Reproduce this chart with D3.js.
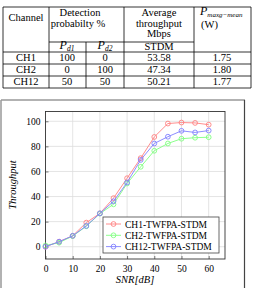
<!DOCTYPE html>
<html lang="en">
<head>
  <meta charset="UTF-8">
  <title>Throughput vs SNR</title>
  <script src="https://d3js.org/d3.v7.min.js"></script>
  <style>
    body { margin: 0; background: #fff; }
    svg, svg text { font-family: "Liberation Serif", "DejaVu Serif", serif; }
  </style>
</head>
<body>
<div id="chart"></div>
<script>
  const FONT = "'Liberation Serif', 'DejaVu Serif', serif";

  // table data
  const channels = ["CH1", "CH2", "CH12"];
  const pd1 = ["100", "0", "50"];
  const pd2 = ["0", "100", "50"];
  const stdm = ["53.58", "47.34", "50.21"];
  const pmaxg = ["1.75", "1.80", "1.77"];

  // plot data
  const snr = [0, 5, 10, 15, 20, 25, 30, 35, 40, 45, 50, 55, 60];
  const ch1 = [0, 4, 8.7, 19.2, 26.6, 38.7, 54.6, 70.6, 87.5, 98.2, 99.0, 98.7, 97.3];
  const ch2 = [1, 3.2, 8.5, 16.3, 26.4, 33.8, 50.4, 63.7, 76.5, 82.3, 86.1, 86.9, 87.3];
  const ch12 = [0, 4, 8.7, 16.6, 26.6, 36.2, 51.2, 69.2, 82.3, 87.7, 92.4, 91.1, 92.6];
  const seriesNames = ["CH1-TWFPA-STDM", "CH2-TWFPA-STDM", "CH12-TWFPA-STDM"];
  const seriesColors = ["#ff8080", "#80ff80", "#8080ff"];
  const xTicks = [0, 10, 20, 30, 40, 50, 60];
  const yTicks = [0, 20, 40, 60, 80, 100];

  const width = 256, height = 288;
  const svg = d3.select("#chart").append("svg")
    .attr("width", width)
    .attr("height", height)
    .attr("font-family", FONT);

  // ---------- table ----------
  const tbl = svg.append("g").attr("font-size", "10.5px").attr("fill", "#000");
  const rowY = [52, 64, 76, 88];

  function hline(x1, x2, y) {
    tbl.append("line").attr("x1", x1).attr("x2", x2).attr("y1", y).attr("y2", y)
      .attr("stroke", "#000").attr("stroke-width", 0.8);
  }
  function vline(x, y1, y2) {
    tbl.append("line").attr("x1", x).attr("x2", x).attr("y1", y1).attr("y2", y2)
      .attr("stroke", "#000").attr("stroke-width", 0.8);
  }
  hline(3, 251, 7);
  hline(49, 194, 42);
  rowY.forEach(y => hline(3, 251, y));
  vline(3, 7, 88); vline(49, 7, 88); vline(86, 42, 88);
  vline(124, 7, 88); vline(194, 7, 88); vline(251, 7, 88);

  function txt(s, x, y, anchor) {
    return tbl.append("text").attr("x", x).attr("y", y)
      .attr("font-family", FONT)
      .attr("text-anchor", anchor || "middle").text(s);
  }
  txt("Channel", 26, 21);
  txt("Detection", 80, 16);
  txt("probabilty %", 78, 27);
  txt("Average", 159, 16);
  txt("throughput", 159, 27);
  txt("Mbps", 159, 37);
  txt("STDM", 159, 50);
  const pm = txt("", 200, 15, "start");
  pm.append("tspan").attr("font-style", "italic").attr("font-size", "12px").text("P");
  pm.append("tspan").attr("dy", 1.5).attr("font-style", "italic").attr("font-size", "7px").text("maxg−mean");
  txt("(W)", 201, 28, "start");
  [["d1", 67], ["d2", 105]].forEach(d => {
    const t = txt("", d[1], 49);
    t.append("tspan").attr("font-style", "italic").attr("font-size", "12px").text("P");
    t.append("tspan").attr("dy", 2).attr("font-style", "italic").attr("font-size", "7.5px").text(d[0]);
  });

  channels.forEach((c, i) => {
    const y = rowY[i] + 9;
    txt(c, 26, y);
    txt(pd1[i], 67, y);
    txt(pd2[i], 105, y);
    txt(stdm[i], 159, y);
    txt(pmaxg[i], 222, y);
  });

  // ---------- chart frame ----------
  svg.append("line").attr("x1", 1).attr("x2", 245).attr("y1", 100).attr("y2", 100)
    .attr("stroke", "#999").attr("stroke-width", 1.5);
  svg.append("line").attr("x1", 1).attr("x2", 1).attr("y1", 100).attr("y2", 288)
    .attr("stroke", "#999").attr("stroke-width", 1.5);
  svg.append("line").attr("x1", 244.5).attr("x2", 244.5).attr("y1", 100).attr("y2", 288)
    .attr("stroke", "#444").attr("stroke-width", 1.2);

  // ---------- plot ----------
  const x = d3.scaleLinear().domain([0, 66]).range([45.5, 225]);
  const y = d3.scaleLinear().domain([-9.8, 107.8]).range([259, 111.5]);

  const plot = svg.append("g");

  // grid
  plot.selectAll(".gx").data(xTicks).enter().append("line")
    .attr("x1", d => x(d)).attr("x2", d => x(d))
    .attr("y1", y.range()[0]).attr("y2", y.range()[1])
    .attr("stroke", "#ddd").attr("stroke-width", 0.8);
  plot.selectAll(".gy").data(yTicks).enter().append("line")
    .attr("x1", x.range()[0]).attr("x2", x.range()[1])
    .attr("y1", d => y(d)).attr("y2", d => y(d))
    .attr("stroke", "#ddd").attr("stroke-width", 0.8);

  // axes
  const xAxis = plot.append("g").attr("transform", "translate(0," + y.range()[0] + ")")
    .call(d3.axisBottom(x).tickValues(xTicks).tickSizeInner(-3).tickSizeOuter(0).tickPadding(6));
  const yAxis = plot.append("g").attr("transform", "translate(" + x.range()[0] + ",0)")
    .call(d3.axisLeft(y).tickValues(yTicks).tickSizeInner(-3).tickSizeOuter(0).tickPadding(5));
  [xAxis, yAxis].forEach(a => {
    a.attr("font-family", FONT).attr("font-size", "9.5px");
    a.select(".domain").remove();
    a.selectAll("line").attr("stroke", "#555").attr("stroke-width", 0.8);
    a.selectAll("text").attr("fill", "#000");
  });

  plot.append("rect")
    .attr("x", x.range()[0]).attr("y", y.range()[1])
    .attr("width", x.range()[1] - x.range()[0])
    .attr("height", y.range()[0] - y.range()[1])
    .attr("fill", "none").attr("stroke", "#333").attr("stroke-width", 0.9);

  // series
  const allSeries = [ch1, ch2, ch12];
  const line = d3.line().x((d, i) => x(snr[i])).y(d => y(d));
  allSeries.forEach((vals, k) => {
    plot.append("path").datum(vals)
      .attr("d", line)
      .attr("fill", "none")
      .attr("stroke", seriesColors[k])
      .attr("stroke-width", 0.9);
    plot.selectAll(".m" + k).data(vals).enter().append("circle")
      .attr("cx", (d, i) => x(snr[i]))
      .attr("cy", d => y(d))
      .attr("r", 2.4)
      .attr("fill", "none")
      .attr("stroke", seriesColors[k])
      .attr("stroke-width", 0.9);
  });

  // axis labels
  svg.append("text")
    .attr("x", 135).attr("y", 283)
    .attr("text-anchor", "middle")
    .attr("font-style", "italic").attr("font-size", "10.5px")
    .text("SNR[dB]");
  svg.append("text")
    .attr("transform", "translate(16,185) rotate(-90)")
    .attr("text-anchor", "middle")
    .attr("font-style", "italic").attr("font-size", "10.5px")
    .text("Throughput");

  // legend
  const lg = svg.append("g").attr("transform", "translate(103,217)");
  lg.append("rect").attr("width", 116).attr("height", 36)
    .attr("fill", "#fff").attr("stroke", "#444").attr("stroke-width", 0.8);
  seriesNames.forEach((name, k) => {
    const ly = 7 + k * 11.3;
    lg.append("line").attr("x1", 3).attr("x2", 18).attr("y1", ly).attr("y2", ly)
      .attr("stroke", seriesColors[k]).attr("stroke-width", 0.9);
    lg.append("circle").attr("cx", 10.5).attr("cy", ly).attr("r", 2.4)
      .attr("fill", "none").attr("stroke", seriesColors[k]).attr("stroke-width", 0.9);
    lg.append("text").attr("x", 22).attr("y", ly + 3.5)
      .attr("font-size", "9.5px").text(name);
  });
</script>
</body>
</html>
